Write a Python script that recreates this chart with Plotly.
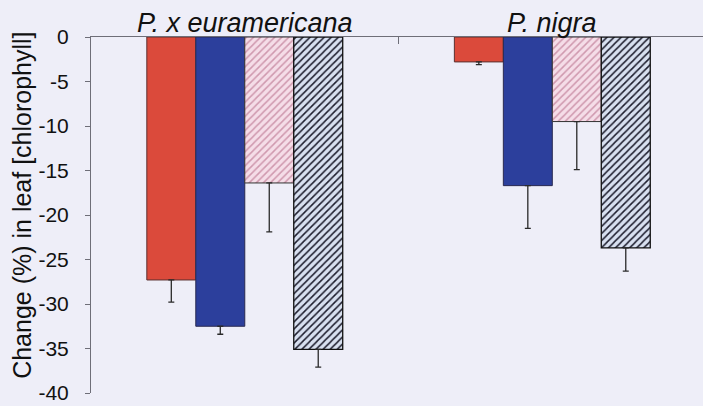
import plotly.graph_objects as go

# Species groups on the x axis
species = ["P. x euramericana", "P. nigra"]

# Change (%) in leaf chlorophyll per treatment, with one-sided (downward) errors
red_solid = [-27.3, -2.8]
red_solid_err = [2.5, 0.3]
blue_solid = [-32.5, -16.7]
blue_solid_err = [0.9, 4.8]
pink_hatched = [-16.4, -9.5]
pink_hatched_err = [5.5, 5.4]
blue_hatched = [-35.1, -23.7]
blue_hatched_err = [2.0, 2.6]

y_ticks = [0, -5, -10, -15, -20, -25, -30, -35, -40]

BG = "#eeeef8"
AXIS = "#6e6e78"
ERR = "#2a2a2a"
FONT = "Liberation Sans, Arial, sans-serif"


def err(minus):
    return dict(type="data", symmetric=False, array=[0] * len(minus),
                arrayminus=minus, color=ERR, thickness=1.3, width=3)


fig = go.Figure()

fig.add_trace(go.Bar(
    name="Series 1", x=species, y=red_solid, error_y=err(red_solid_err),
    marker=dict(color="#db4a3b", line=dict(color="#5a3030", width=1)),
))
fig.add_trace(go.Bar(
    name="Series 2", x=species, y=blue_solid, error_y=err(blue_solid_err),
    marker=dict(color="#2c3f9c", line=dict(color="#2a2a50", width=1)),
))
fig.add_trace(go.Bar(
    name="Series 3", x=species, y=pink_hatched, error_y=err(pink_hatched_err),
    marker=dict(
        color="#f5dde8",
        line=dict(color="#333333", width=1),
        pattern=dict(shape="/", bgcolor="#f5dde8", fgcolor="#cf98ae",
                     size=5, solidity=0.3, fillmode="replace"),
    ),
))
fig.add_trace(go.Bar(
    name="Series 4", x=species, y=blue_hatched, error_y=err(blue_hatched_err),
    marker=dict(
        color="#d8e0f0",
        line=dict(color="#111111", width=1.3),
        pattern=dict(shape="/", bgcolor="#d8e0f0", fgcolor="#1c1c2c",
                     size=5, solidity=0.3, fillmode="replace"),
    ),
))

# Species names above the zero line
for name in species:
    fig.add_annotation(
        x=name, xref="x", y=1, yref="paper", yanchor="bottom", xanchor="center",
        text=name, showarrow=False, yshift=-3,
        font=dict(family=FONT, size=27, color="#111111", style="italic"),
    )

# Rotated y-axis title
fig.add_annotation(
    x=-0.112, xref="paper", y=0.527, yref="paper", textangle=-90,
    text="Change (%) in leaf [chlorophyll]", showarrow=False,
    xanchor="center", yanchor="middle",
    font=dict(family=FONT, size=25, color="#111111"),
)

fig.update_layout(
    width=703, height=406,
    margin=dict(l=91, r=0, t=37, b=13, pad=0),
    paper_bgcolor=BG, plot_bgcolor=BG,
    barmode="group", bargap=0.363, bargroupgap=0,
    showlegend=False,
    xaxis=dict(
        type="category", side="top", range=[-0.5, 1.49],
        showticklabels=False, showgrid=False, zeroline=False,
        showline=True, linecolor=AXIS, linewidth=1,
        ticks="inside", tickson="boundaries", ticklen=7,
        tickcolor=AXIS, tickwidth=1,
    ),
    yaxis=dict(
        range=[-40, 0], tickvals=y_ticks, ticktext=[str(v) for v in y_ticks],
        showgrid=False, zeroline=False,
        showline=True, linecolor=AXIS, linewidth=1,
        ticks="outside", ticklen=5, tickcolor=AXIS, tickwidth=1,
        ticklabelstandoff=12,
        tickfont=dict(family=FONT, size=21, color="#111111"),
    ),
)

fig.write_html("out.html")
